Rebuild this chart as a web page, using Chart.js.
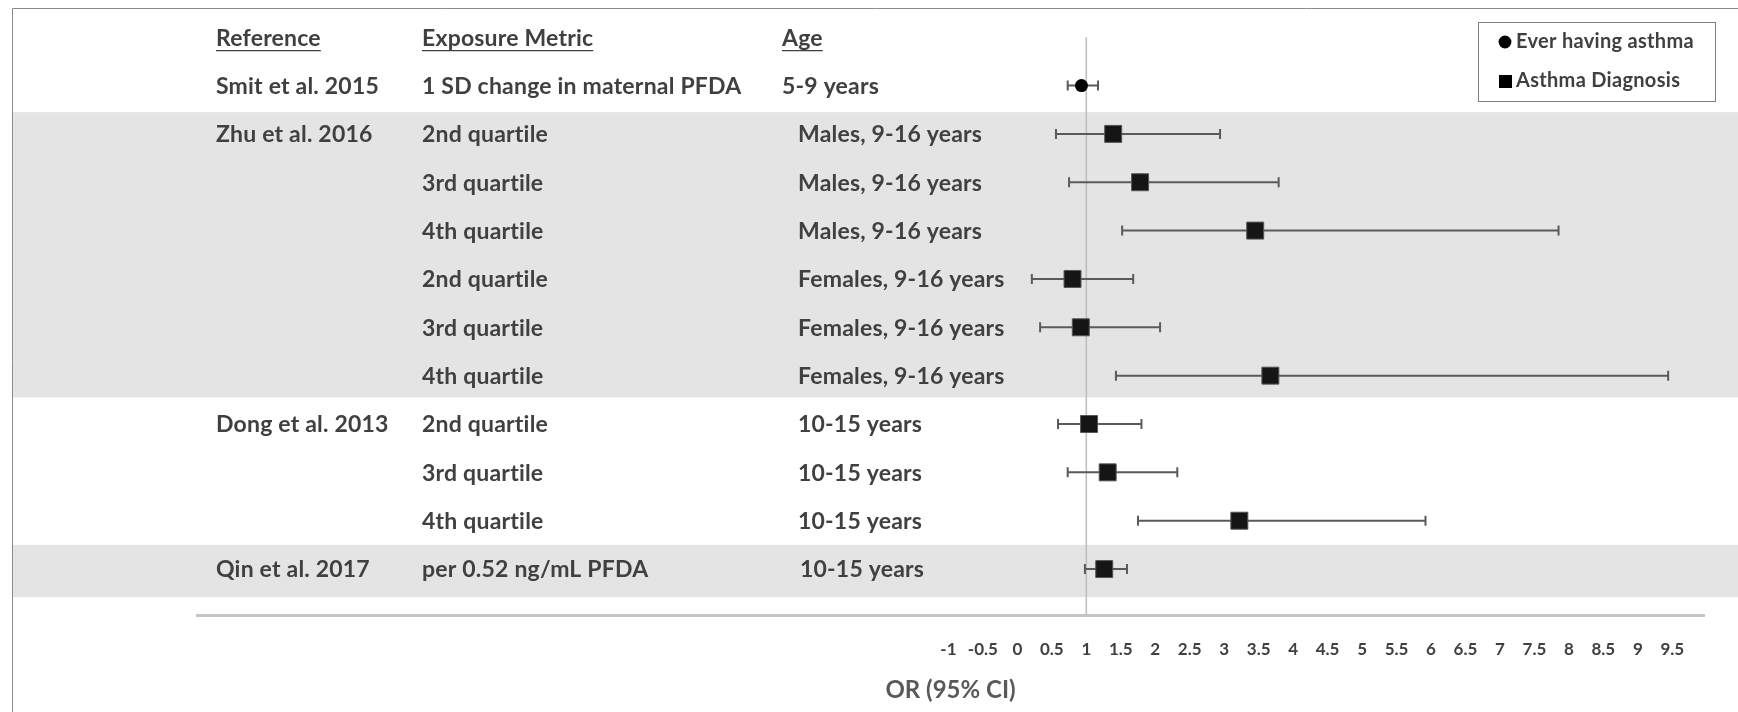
<!DOCTYPE html>
<html>
<head>
<meta charset="utf-8">
<script src="https://cdn.jsdelivr.net/npm/chart.js@4.4.1/dist/chart.umd.min.js"></script>
<style>
    html, body { margin: 0; padding: 0; background: #fff; }
</style>
</head>
<body>
<canvas id="forestChart" width="1738" height="712"></canvas>
<script>
// 表の列 (行ごと)
const studies = ['Smit et al. 2015', 'Zhu et al. 2016', '', '', '', '', '', 'Dong et al. 2013', '', '', 'Qin et al. 2017'];
const exposures = ['1 SD change in maternal PFDA', '2nd quartile', '3rd quartile', '4th quartile', '2nd quartile', '3rd quartile', '4th quartile',
    '2nd quartile', '3rd quartile', '4th quartile', 'per 0.52 ng/mL PFDA'];
const ages = ['5-9 years', 'Males, 9-16 years', 'Males, 9-16 years', 'Males, 9-16 years', 'Females, 9-16 years', 'Females, 9-16 years', 'Females, 9-16 years',
    '10-15 years', '10-15 years', '10-15 years', '10-15 years'];
const outcomes = ['Ever having asthma', 'Asthma Diagnosis', 'Asthma Diagnosis', 'Asthma Diagnosis', 'Asthma Diagnosis', 'Asthma Diagnosis', 'Asthma Diagnosis',
    'Asthma Diagnosis', 'Asthma Diagnosis', 'Asthma Diagnosis', 'Asthma Diagnosis'];

// OR と 95% CI
const oddsRatios = [0.93, 1.39, 1.78, 3.45, 0.80, 0.92, 3.67, 1.04, 1.31, 3.22, 1.26];
const ciLower    = [0.73, 0.56, 0.75, 1.52, 0.21, 0.33, 1.43, 0.59, 0.73, 1.75, 0.98];
const ciUpper    = [1.17, 2.94, 3.79, 7.85, 1.68, 2.07, 9.44, 1.80, 2.32, 5.92, 1.59];

const headers = ['Reference', 'Exposure Metric', 'Age'];
const xTickLabels = ['-1', '-0.5', '0', '0.5', '1', '1.5', '2', '2.5', '3', '3.5', '4', '4.5', '5', '5.5', '6', '6.5', '7', '7.5', '8', '8.5', '9', '9.5'];
const shadedStudies = ['Zhu et al. 2016', 'Qin et al. 2017'];
const outcomeNames = ['Ever having asthma', 'Asthma Diagnosis'];

const TEXT_COLOR = '#404040';
const FONT = 'Lato, "Open Sans", sans-serif';

function pointsFor(outcome) {
    const pts = [];
    oddsRatios.forEach((or, i) => {
        if (outcomes[i] === outcome) pts.push({ x: or, y: i });
    });
    return pts;
}

// 行グループ (study が空欄なら直前の study に属する)
function groupOf(i) {
    for (let k = i; k >= 0; k--) if (studies[k]) return studies[k];
    return '';
}

const forestPlugin = {
    id: 'forest',
    beforeDatasetsDraw(chart) {
        const { ctx, scales: { x, y }, chartArea } = chart;
        ctx.save();
        // 網掛け (最後のグループは少し広め)
        ctx.fillStyle = '#e4e4e4';
        shadedStudies.forEach(name => {
            const rows = studies.map((_, i) => i).filter(i => groupOf(i) === name);
            const last = rows[rows.length - 1] === studies.length - 1;
            const top = y.getPixelForValue(rows[0] - (last ? 0.5 : 0.45));
            const bottom = y.getPixelForValue(rows[rows.length - 1] + (last ? 0.58 : 0.45));
            ctx.fillRect(13, top, chart.width - 13, bottom - top);
        });
        // OR = 1 の基準線
        ctx.strokeStyle = '#bdbdbd';
        ctx.lineWidth = 1.5;
        ctx.beginPath();
        ctx.moveTo(x.getPixelForValue(1), y.getPixelForValue(-1));
        ctx.lineTo(x.getPixelForValue(1), chartArea.bottom);
        ctx.stroke();
        // エラーバー
        ctx.strokeStyle = '#5a5a5a';
        ctx.lineWidth = 2;
        oddsRatios.forEach((_, i) => {
            const py = y.getPixelForValue(i);
            const x0 = x.getPixelForValue(ciLower[i]);
            const x1 = x.getPixelForValue(ciUpper[i]);
            ctx.beginPath();
            ctx.moveTo(x0, py); ctx.lineTo(x1, py);
            ctx.moveTo(x0, py - 5); ctx.lineTo(x0, py + 5);
            ctx.moveTo(x1, py - 5); ctx.lineTo(x1, py + 5);
            ctx.stroke();
        });
        ctx.restore();
    },
    afterDraw(chart) {
        const { ctx, scales: { y } } = chart;
        ctx.save();
        // 外枠
        ctx.strokeStyle = '#8c8c8c';
        ctx.lineWidth = 1;
        ctx.beginPath();
        ctx.moveTo(12.5, chart.height);
        ctx.lineTo(12.5, 8.5);
        ctx.lineTo(chart.width, 8.5);
        ctx.stroke();

        // 見出し
        const colX = [216, 422, 782];
        ctx.fillStyle = TEXT_COLOR;
        ctx.strokeStyle = TEXT_COLOR;
        ctx.textBaseline = 'middle';
        ctx.letterSpacing = '0.2px';
        ctx.font = 'bold 23px ' + FONT;
        const hy = y.getPixelForValue(-0.97);
        headers.forEach((h, k) => {
            ctx.fillText(h, colX[k], hy);
            const w = ctx.measureText(h).width;
            ctx.lineWidth = 1.3;
            ctx.beginPath();
            ctx.moveTo(colX[k], hy + 12);
            ctx.lineTo(colX[k] + w, hy + 12);
            ctx.stroke();
        });

        // 行テキスト
        studies.forEach((s, i) => {
            const py = y.getPixelForValue(i) + 1;
            if (s) ctx.fillText(s, colX[0], py);
            ctx.fillText(exposures[i], colX[1], py);
            const indent = i === 0 ? 0 : (i === studies.length - 1 ? 18 : 16);
            ctx.fillText(ages[i], colX[2] + indent, py);
        });

        // 凡例
        ctx.strokeStyle = '#7f7f7f';
        ctx.lineWidth = 1;
        ctx.strokeRect(1478.5, 22.5, 237, 79);
        ctx.letterSpacing = '0.3px';
        ctx.font = 'bold 20px ' + FONT;
        ctx.fillStyle = '#000';
        ctx.beginPath();
        ctx.arc(1505, 42, 6.4, 0, Math.PI * 2);
        ctx.fill();
        ctx.fillRect(1499, 75, 13, 13);
        ctx.fillStyle = TEXT_COLOR;
        ctx.fillText(outcomeNames[0], 1516, 42);
        ctx.fillText(outcomeNames[1], 1516, 81);
        ctx.restore();
    }
};

new Chart(document.getElementById('forestChart').getContext('2d'), {
    type: 'scatter',
    data: {
        datasets: [
            {
                label: outcomeNames[0],
                data: pointsFor(outcomeNames[0]),
                pointStyle: 'circle',
                pointRadius: 6.5,
                backgroundColor: '#000',
                borderColor: '#000',
                borderWidth: 0
            },
            {
                label: outcomeNames[1],
                data: pointsFor(outcomeNames[1]),
                pointStyle: 'rect',
                pointRadius: 12,
                backgroundColor: '#151515',
                borderColor: '#555',
                borderWidth: 1
            }
        ]
    },
    options: {
        responsive: false,
        animation: false,
        layout: { padding: { left: 197, right: 34, top: 9, bottom: 0 } },
        plugins: {
            legend: { display: false },
            tooltip: { enabled: false }
        },
        scales: {
            x: {
                type: 'linear',
                min: -11.9,
                max: 9.96,
                afterBuildTicks: (axis) => {
                    axis.ticks = xTickLabels.map(t => ({ value: Number(t) }));
                },
                afterFit: (axis) => { axis.height = 97; },
                grid: { display: false, drawTicks: false },
                border: { display: true, color: '#c4c4c4', width: 3 },
                ticks: {
                    autoSkip: false,
                    maxRotation: 0,
                    padding: 24,
                    color: TEXT_COLOR,
                    font: { family: FONT, size: 17, weight: 'bold' },
                    callback: (value, index) => xTickLabels[index]
                },
                title: {
                    display: true,
                    text: 'OR (95% CI)',
                    color: '#595959',
                    padding: { top: 0, bottom: 7 },
                    font: { family: FONT, size: 24, weight: 'bold' }
                }
            },
            y: {
                type: 'linear',
                display: false,
                reverse: true,
                min: -1.5,
                max: 10.95
            }
        }
    },
    plugins: [forestPlugin]
});
</script>
</body>
</html>
